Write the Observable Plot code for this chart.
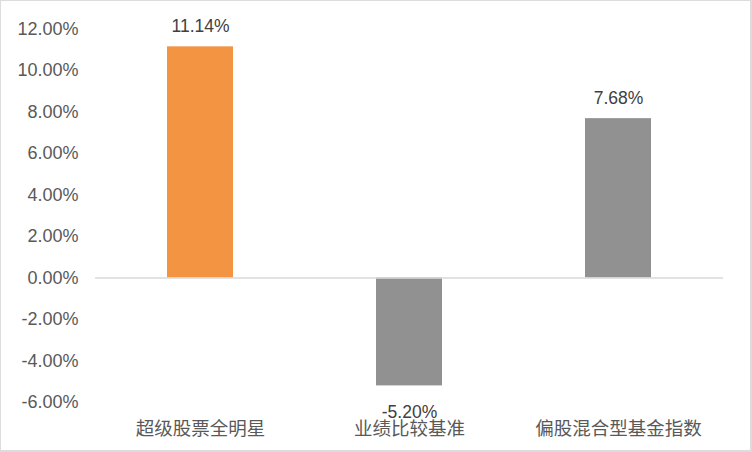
<!DOCTYPE html>
<html>
<head>
<meta charset="utf-8">
<script src="https://cdn.jsdelivr.net/npm/d3@7"></script>
<script src="https://cdn.jsdelivr.net/npm/@observablehq/plot@0.6"></script>
<style>
  html, body { margin: 0; padding: 0; background: #fff; }
  #wrap { position: relative; width: 752px; height: 452px; overflow: hidden; }
  #frame { position: absolute; left: 0; top: 0; width: 752px; height: 452px; box-sizing: border-box;
           border: 1px solid #dcdcdc; border-right-width: 2px; border-bottom-width: 2px; pointer-events: none; }
  svg { display: block; }
</style>
</head>
<body>
<div id="wrap"><div id="chart"></div><div id="frame"></div></div>
<script>
const categories = ["超级股票全明星", "业绩比较基准", "偏股混合型基金指数"];
const values = [11.14, -5.20, 7.68];
const barColors = ["#F39443", "#919191", "#919191"];
const yTicks = [-6, -4, -2, 0, 2, 4, 6, 8, 10, 12];

const data = categories.map((c, i) => ({ category: c, value: values[i], color: barColors[i] }));
const pct = d => d.toFixed(2) + "%";

const chart = Plot.plot({
  width: 752,
  height: 452,
  marginLeft: 95,
  marginRight: 29,
  marginTop: 28.5,
  marginBottom: 50,
  style: { fontFamily: "'Liberation Sans', Arial, 'Noto Sans CJK SC', sans-serif", background: "transparent" },
  x: { domain: categories, paddingInner: 0.685, paddingOuter: 0.3425 },
  y: { domain: [-6, 12] },
  marks: [
    Plot.axisY({ ticks: yTicks, tickFormat: pct, tickSize: 0, tickPadding: 17, fontSize: 18, fill: "#595959", label: null }),
    Plot.axisX({ tickSize: 0, tickPadding: 19, fontSize: 18.5, fill: "#595959", label: null }),
    Plot.barY(data, { x: "category", y: "value", fill: "color" }),
    Plot.ruleY([0], { stroke: "#d9d9d9", strokeWidth: 1.5 }),
    Plot.text(data.filter(d => d.value >= 0), {
      x: "category", y: "value", text: d => pct(d.value),
      dy: -20, lineAnchor: "middle", textAnchor: "middle", fontSize: 17.5, fill: "#404040"
    }),
    Plot.text(data.filter(d => d.value < 0), {
      x: "category", y: "value", text: d => pct(d.value),
      dy: 26, lineAnchor: "middle", textAnchor: "middle", fontSize: 17.5, fill: "#404040"
    })
  ]
});
document.getElementById("chart").appendChild(chart);
</script>
</body>
</html>
